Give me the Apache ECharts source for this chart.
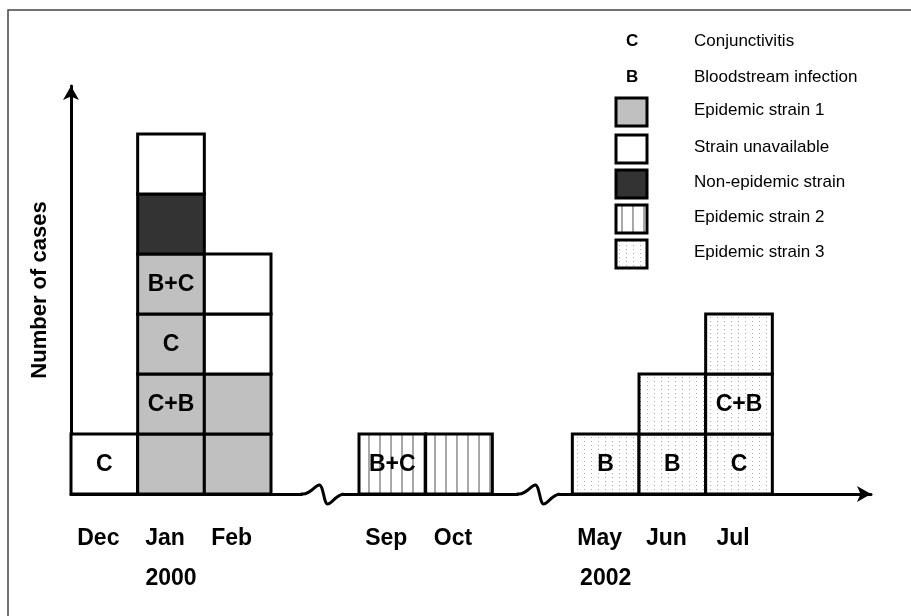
<!DOCTYPE html>
<html>
<head>
<meta charset="utf-8">
<script src="https://cdn.jsdelivr.net/npm/echarts@6/dist/echarts.min.js"></script>
<style>
html, body { margin: 0; padding: 0; background: #fff; }
#chart { width: 911px; height: 616px; }
</style>
</head>
<body>
<div id="chart"></div>
<script>
// months and where each column starts on the (broken) time axis
var months = ['Dec', 'Jan', 'Feb', 'Sep', 'Oct', 'May', 'Jun', 'Jul'];
var monthPos = [0, 1, 2, 4.32, 5.32, 7.52, 8.52, 9.52];
var years = ['2000', '2002'];
var yearPos = [1, 7.52];
var breakPos = [3.76, 7.0];

// one entry per case, bottom to top
var strains = [
    ['U'],
    ['E1', 'E1', 'E1', 'E1', 'N', 'U'],
    ['E1', 'E1', 'U', 'U'],
    ['E2'],
    ['E2'],
    ['E3'],
    ['E3', 'E3'],
    ['E3', 'E3', 'E3']
];
var caseLabels = [
    ['C'],
    ['', 'C+B', 'C', 'B+C', '', ''],
    ['', '', '', ''],
    ['B+C'],
    [''],
    ['B'],
    ['B', ''],
    ['C', 'C+B', '']
];

var legendSymbols = ['C', 'B', 'E1', 'U', 'N', 'E2', 'E3'];
var legendNames = ['Conjunctivitis', 'Bloodstream infection', 'Epidemic strain 1',
    'Strain unavailable', 'Non-epidemic strain', 'Epidemic strain 2', 'Epidemic strain 3'];

var FONT = 'Arial, "Liberation Sans", sans-serif';

function makePattern(w, h, draw) {
    var c = document.createElement('canvas');
    c.width = w; c.height = h;
    var ctx = c.getContext('2d');
    ctx.fillStyle = '#fff';
    ctx.fillRect(0, 0, w, h);
    draw(ctx);
    return { image: c, repeat: 'repeat' };
}

var fills = {
    E1: '#c0c0c0',
    U: '#ffffff',
    N: '#333333',
    E2: makePattern(11, 10, function (ctx) {
        ctx.fillStyle = '#a8a8a8';
        ctx.fillRect(5, 0, 2, 10);
    }),
    E3: makePattern(7, 4, function (ctx) {
        ctx.fillStyle = '#aaaaaa';
        ctx.fillRect(3, 1, 1, 1);
    })
};

// flatten into cells
var cells = [];
months.forEach(function (m, i) {
    strains[i].forEach(function (s, j) {
        cells.push({ x: monthPos[i], lvl: j, strain: s, label: caseLabels[i][j] });
    });
});

function renderCell(params, api) {
    var c = cells[params.dataIndex];
    var p0 = api.coord([c.x, c.lvl]);
    var p1 = api.coord([c.x + 1, c.lvl + 1]);
    var w = p1[0] - p0[0], h = p0[1] - p1[1];
    return {
        type: 'group',
        children: [{
            type: 'rect',
            shape: { x: p0[0], y: p1[1], width: w, height: h },
            style: { fill: fills[c.strain], stroke: '#000', lineWidth: 3 }
        }, {
            type: 'text',
            style: {
                text: c.label, x: p0[0] + w / 2, y: p1[1] + h / 2 + 1,
                align: 'center', verticalAlign: 'middle',
                fontSize: 23, fontWeight: 'bold', fontFamily: FONT, fill: '#000'
            }
        }]
    };
}

function renderMonth(params, api) {
    var p = api.coord([api.value(0) + 0.5, 0]);
    return {
        type: 'text',
        style: {
            text: months[params.dataIndex], x: p[0] - 6, y: p[1] + 45,
            align: 'center', verticalAlign: 'middle',
            fontSize: 23, fontWeight: 'bold', fontFamily: FONT, fill: '#000'
        }
    };
}

function renderYear(params, api) {
    var p = api.coord([api.value(0) + 0.5, 0]);
    return {
        type: 'text',
        style: {
            text: years[params.dataIndex], x: p[0], y: p[1] + 85,
            align: 'center', verticalAlign: 'middle',
            fontSize: 23, fontWeight: 'bold', fontFamily: FONT, fill: '#000'
        }
    };
}

function renderBreak(params, api) {
    var p = api.coord([api.value(0), 0]);
    return {
        type: 'group',
        x: p[0], y: p[1],
        children: [{
            type: 'rect',
            shape: { x: -19, y: -3, width: 39, height: 6 },
            style: { fill: '#fff' }
        }, {
            type: 'path',
            shape: { pathData: 'M-21 0 L-19 0 C-10 0 -6 -10 -2 -9 C2 -8 2 10 6 10 C10 10 14 1 22 0' },
            style: { fill: 'none', stroke: '#000', lineWidth: 3 }
        }]
    };
}

// legend drawn as graphics
var legendGraphics = [];
legendSymbols.forEach(function (s, i) {
    var cy = [43, 79, 112, 149, 184, 219, 254][i];
    if (s === 'C' || s === 'B') {
        legendGraphics.push({
            type: 'text', left: 626, top: cy - 10,
            style: { text: s, fontSize: 17, fontWeight: 'bold', fontFamily: FONT, fill: '#000' }
        });
    } else {
        legendGraphics.push({
            type: 'rect', shape: { x: 616, y: cy - 14, width: 31, height: 28 },
            style: { fill: fills[s], stroke: '#000', lineWidth: 3 }
        });
    }
    legendGraphics.push({
        type: 'text', left: 694, top: cy - 10,
        style: { text: legendNames[i], fontSize: 17, fontFamily: FONT, fill: '#000' }
    });
});

var chart = echarts.init(document.getElementById('chart'));
chart.setOption({
    animation: false,
    backgroundColor: '#fff',
    grid: { left: 71, right: 40, top: 86, bottom: 122 },
    xAxis: {
        type: 'value', min: 0, max: 12,
        splitLine: { show: false }, axisTick: { show: false }, axisLabel: { show: false },
        axisLine: { show: true, symbol: ['none', 'arrow'], symbolSize: [12, 14],
            lineStyle: { color: '#000', width: 3 } }
    },
    yAxis: {
        type: 'value', min: 0, max: 6.8,
        name: 'Number of cases', nameLocation: 'middle', nameGap: 20, nameRotate: 90,
        nameTextStyle: { fontSize: 22, fontWeight: 'bold', fontFamily: FONT, color: '#000' },
        splitLine: { show: false }, axisTick: { show: false }, axisLabel: { show: false },
        axisLine: { show: true, symbol: ['none', 'arrow'], symbolSize: [12, 14],
            lineStyle: { color: '#000', width: 3 } }
    },
    graphic: [{
        type: 'rect', shape: { x: 8, y: 10, width: 940, height: 640 },
        style: { fill: 'none', stroke: '#444', lineWidth: 1.5 }, z: -1
    }].concat(legendGraphics),
    series: [{
        type: 'custom', name: 'breaks', renderItem: renderBreak,
        data: breakPos.map(function (b) { return [b, 0]; }), clip: false, z: 3
    }, {
        type: 'custom', name: 'cases', renderItem: renderCell,
        data: cells.map(function (c) { return [c.x, c.lvl]; }), clip: false, z: 4
    }, {
        type: 'custom', name: 'months', renderItem: renderMonth,
        data: monthPos.map(function (p) { return [p, 0]; }), clip: false
    }, {
        type: 'custom', name: 'years', renderItem: renderYear,
        data: yearPos.map(function (p) { return [p, 0]; }), clip: false
    }]
});
</script>
</body>
</html>
